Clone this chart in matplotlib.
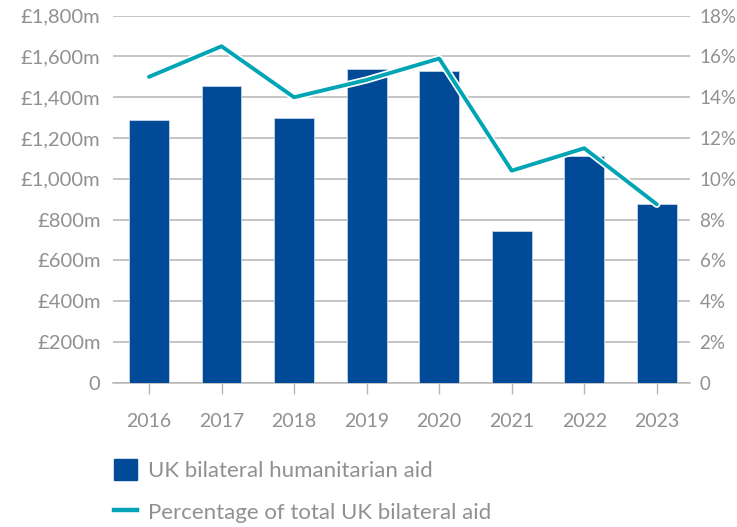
import matplotlib
matplotlib.use("Agg")
import matplotlib.pyplot as plt
import matplotlib.patheffects as pe
from matplotlib.patches import Patch
from matplotlib.lines import Line2D

years = ["2016", "2017", "2018", "2019", "2020", "2021", "2022", "2023"]
aid_m = [1290, 1455, 1300, 1540, 1530, 745, 1110, 875]
pct_of_bilateral = [15.0, 16.5, 14.0, 14.85, 15.9, 10.4, 11.5, 8.75]

left_ticks = [0, 200, 400, 600, 800, 1000, 1200, 1400, 1600, 1800]
left_labels = ["0", "£200m", "£400m", "£600m", "£800m", "£1,000m",
               "£1,200m", "£1,400m", "£1,600m", "£1,800m"]
right_ticks = [0, 2, 4, 6, 8, 10, 12, 14, 16, 18]
right_labels = ["0", "2%", "4%", "6%", "8%", "10%", "12%", "14%", "16%", "18%"]

bar_col = "#004a97"
line_col = "#00a5b5"
grey = "#909090"
grid_col = "#b5b5b5"

plt.rcParams['font.family'] = ['Lato', 'DejaVu Sans']

fig = plt.figure(figsize=(7.37, 5.27), dpi=100)
ax = fig.add_axes([0.1533, 0.2738, 0.7827, 0.6964])
x = list(range(len(years)))

ax.bar(x, aid_m, width=0.55, color=bar_col, edgecolor="#c9d6e6", linewidth=0.6, zorder=3)
ax.set_ylim(0, 1800)
ax.set_xlim(-0.496, 7.455)
ax.set_yticks(left_ticks)
ax.set_yticklabels(left_labels)
ax.yaxis.grid(True, color=grid_col, linewidth=1.1, zorder=0)
ax.set_axisbelow(True)
for s in ["top", "right", "left"]:
    ax.spines[s].set_visible(False)
ax.spines["bottom"].set_color(grid_col)
ax.spines["bottom"].set_linewidth(1.1)
ax.set_xticks(x)
ax.set_xticklabels(years)
ax.tick_params(axis="x", length=8, width=1, color=grid_col, pad=14, labelsize=14, labelcolor=grey)
ax.tick_params(axis="y", length=0, pad=9, labelsize=14.5, labelcolor=grey)

ax2 = ax.twinx()
ax2.plot(x, pct_of_bilateral, color=line_col, linewidth=2.8, zorder=4,
         solid_joinstyle="round", solid_capstyle="round",
         path_effects=[pe.Stroke(linewidth=5.2, foreground="white"), pe.Normal()])
ax2.set_ylim(0, 18)
ax2.set_yticks(right_ticks)
ax2.set_yticklabels(right_labels)
ax2.tick_params(axis="y", length=0, pad=7, labelsize=13.5, labelcolor=grey)
for s in ax2.spines.values():
    s.set_visible(False)

handles = [Patch(facecolor=bar_col, edgecolor=bar_col),
           Line2D([0], [0], color=line_col, linewidth=3.2)]
labels = ["UK bilateral humanitarian aid", "Percentage of total UK bilateral aid"]
leg = fig.legend(handles, labels, loc="upper left", bbox_to_anchor=(0.142, 0.146),
                 frameon=False, fontsize=16, labelspacing=0.9, handlelength=1.05,
                 handleheight=1.05, handletextpad=0.5, borderaxespad=0)
for t in leg.get_texts():
    t.set_color(grey)

fig.savefig("out.png", dpi=100)
